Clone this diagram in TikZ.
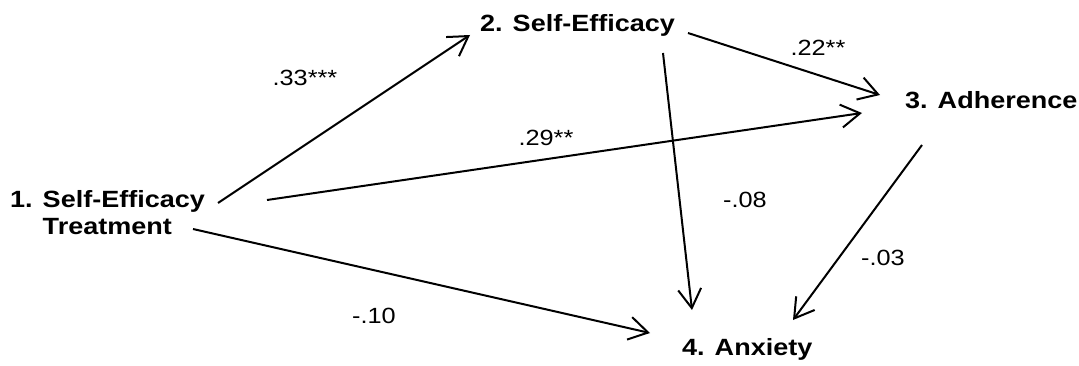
\documentclass[tikz,border=0pt]{standalone}
\usepackage{fontspec}
\setmainfont[FakeStretch=1.15]{Liberation Sans}
\usetikzlibrary{arrows.meta}
\tikzset{
  var/.style={font=\fontsize{23.5}{28}\selectfont\bfseries, inner sep=0pt, align=left},
  coef/.style={font=\fontsize{22}{25}\selectfont, inner sep=0pt},
  arr/.style={line width=2pt, -{Straight Barb[length=19pt,width=23pt,line width=2pt]}}
}
\begin{document}
\begin{tikzpicture}[x=1pt,y=-1pt]
\useasboundingbox (0,0) rectangle (1079,366);
% variables
\node[var, anchor=base west] (n1) at (10,235) {1. Self-Efficacy\\\hphantom{1. }Treatment};
\node[var, anchor=base west] (n2) at (480,31.7) {2. Self-Efficacy};
\node[var, anchor=base west] (n3) at (905,108.3) {3. Adherence};
\node[var, anchor=base west] (n4) at (682,355) {4. Anxiety};
% endpoints
\coordinate (s12) at (218,203);
\coordinate (e12) at (470,35);
\coordinate (s13) at (267,200);
\coordinate (e13) at (862,113);
\coordinate (s23) at (688,33);
\coordinate (e23) at (880,95);
\coordinate (s24) at (663,53);
\coordinate (e24) at (692,310);
\coordinate (s14) at (193,229);
\coordinate (e14) at (650,333);
\coordinate (s34) at (922,145);
\coordinate (e34) at (793,320);
% paths
\draw[arr] (s12) -- (e12);
\draw[arr] (s13) -- (e13);
\draw[arr] (s23) -- (e23);
\draw[arr] (s24) -- (e24);
\draw[arr] (s14) -- (e14);
\draw[arr] (s34) -- (e34);
% coefficients
\node[coef] (c12) at (305,78) {.33***};
\node[coef] (c13) at (546,138) {.29**};
\node[coef] (c23) at (818,48) {.22**};
\node[coef] (c24) at (745,200) {-.08};
\node[coef] (c34) at (883,258) {-.03};
\node[coef] (c14) at (374,316) {-.10};
\end{tikzpicture}
\end{document}
